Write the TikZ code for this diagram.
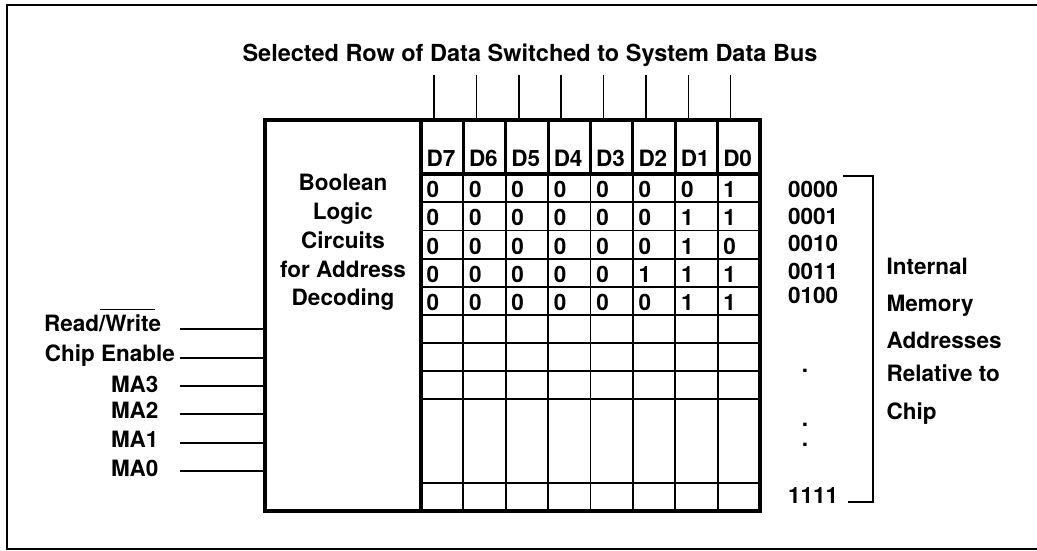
\documentclass[tikz,border=0pt]{standalone}
\usepackage{fontspec}
\setmainfont{TeX Gyre Heros}
\begin{document}
\begin{tikzpicture}[x=1pt,y=-1pt,
  lbl/.style={font=\fontsize{22.5}{27}\selectfont\bfseries, inner sep=0pt, outer sep=0pt},
  ttl/.style={font=\fontsize{23.5}{28}\selectfont\bfseries, inner sep=0pt, outer sep=0pt},
  frameline/.style={line width=2.2pt},
  blockline/.style={line width=4pt},
  headline/.style={line width=3.2pt},
  gridline/.style={line width=1.8pt},
  wire/.style={line width=1.8pt},
  busline/.style={line width=1.5pt},
]
\useasboundingbox (0,0) rectangle (1037,550);
% outer frame
\draw[frameline] (1040,5) -- (7,5) -- (7,549) -- (1040,549);
% memory chip block
\node[draw, blockline, minimum width=495pt, minimum height=391pt, inner sep=0pt] (blk) at (512.5,315.5) {};
\def\cw{42.375}
% header verticals
\foreach \i in {1,...,7} \draw[headline] ({421+\cw*\i},120) -- ({421+\cw*\i},174);
% data verticals
\foreach \i in {1,...,7} \draw[gridline] ({421+\cw*\i},174) -- ({421+\cw*\i},511);
% row lines
\foreach \yy in {202.2,230.4,258.6,286.8,315,343,371,399.3,483.3} \draw[gridline] (421,\yy) -- (760,\yy);
\draw[headline] (421,174) -- (760,174);
\draw[blockline] (421,120) -- (421,513);
% headers
\foreach \t [count=\i from 0] in {D7,D6,D5,D4,D3,D2,D1,D0}
  \node[lbl, anchor=base] (h\i) at ({421+\cw*\i+20},166.5) {\t};
% bus lines
\foreach \i in {0,...,7} {
  \coordinate (bus\i) at ({421+\cw*\i+13},75);
  \draw[busline] (bus\i) -- (bus\i |- blk.north);
}
% title
\node[ttl, anchor=base] (title) at (530,61.5) {Selected Row of Data Switched to System Data Bus};
% data bits
\foreach \r/\bits in {0/{0,0,0,0,0,0,0,1},1/{0,0,0,0,0,0,1,1},2/{0,0,0,0,0,0,1,0},3/{0,0,0,0,0,1,1,1},4/{0,0,0,0,0,0,1,1}} {
  \foreach \b [count=\c from 0] in \bits {
    \node[lbl, anchor=base] (d\r\c) at ({421+\cw*\c+12},{174+28.2*\r+14.1+9.5}) {\b};
  }
}
% decoder text
\foreach \t/\yy [count=\k] in {Boolean/190.5, Logic/219, Circuits/248, for Address/277, Decoding/305}
  \node[lbl, anchor=base] (bl\k) at (343,\yy) {\t};
% addresses
\foreach \t/\yy [count=\k] in {0000/197,0001/224.7,0010/251,0011/279.7,0100/303,1111/503}
  \node[lbl, anchor=base west] (a\k) at (788,\yy) {\t};
\foreach \yy [count=\k] in {372.5,426.5,446.5}
  \node[lbl, anchor=base] (dot\k) at (805,\yy) {.};
% bracket
\coordinate (brT) at (843,176);
\coordinate (brB) at (848,502);
\draw[wire] (brT) -- (873.3,176) -- (873.3,502) -- (brB);
% right text
\foreach \t/\yy [count=\k] in {Internal/274.7, Memory/311.3, Addresses/348, Relative to/381.3, Chip/419.7}
  \node[lbl, anchor=base west] (r\k) at (886.7,\yy) {\t};
% left labels
\node[lbl, anchor=base east] (rwA) at (105.45,331.7) {Read/};
\node[lbl, anchor=base west] (rwB) at (rwA.base east) {Write};
\draw[line width=1.5pt] ([xshift=-5pt,yshift=5.5pt]rwB.north west) -- ([xshift=-6pt,yshift=5.5pt]rwB.north east);
\node[lbl, anchor=base east] (ce) at (175,361.7) {Chip Enable};
\node[lbl, anchor=base east] (ma3) at (158.5,392.7) {MA3};
\node[lbl, anchor=base east] (ma2) at (158.5,418.3) {MA2};
\node[lbl, anchor=base east] (ma1) at (158.5,447.7) {MA1};
\node[lbl, anchor=base east] (ma0) at (158.5,476) {MA0};
% input wires
\foreach \n/\yy in {rw/329.3, ce/358.3, m3/386, m2/414, m1/442.7, m0/471} {
  \coordinate (in\n) at (180,\yy);
  \draw[wire] (in\n) -- (in\n -| blk.west);
}
\end{tikzpicture}
\end{document}
